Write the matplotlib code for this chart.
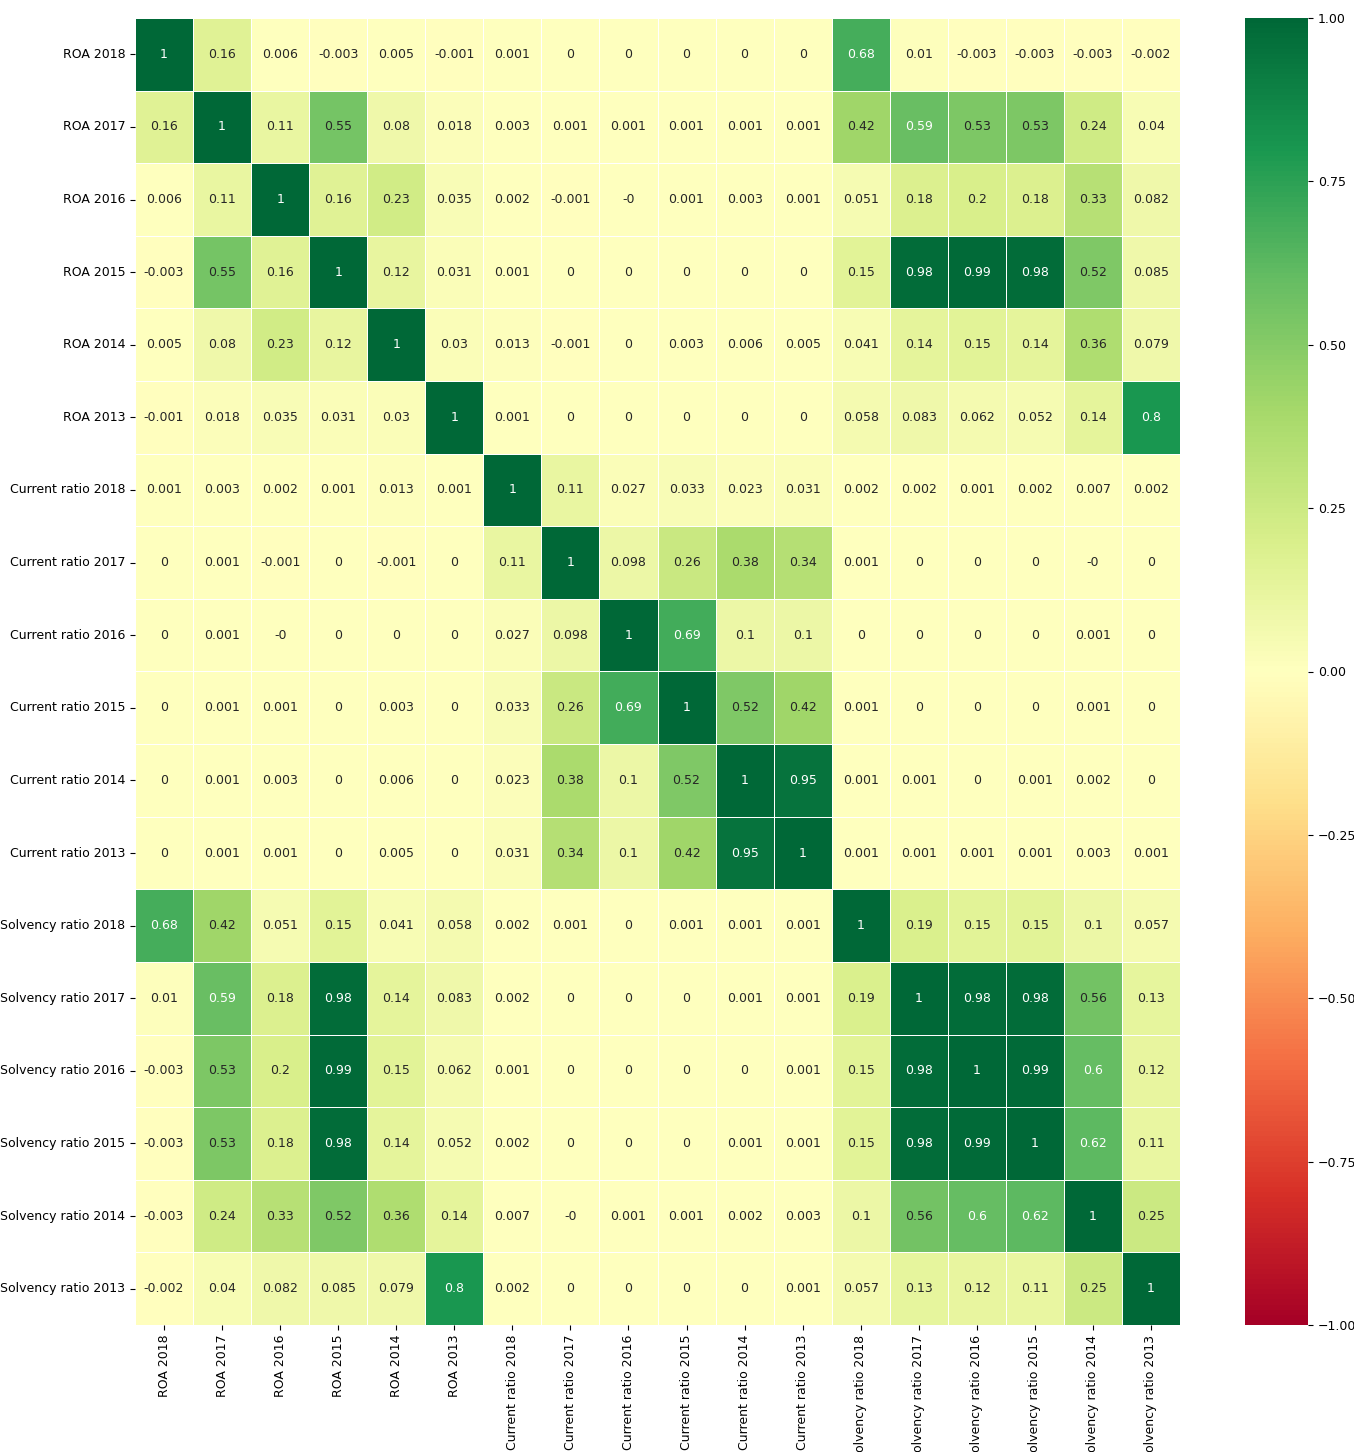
import matplotlib
matplotlib.use("Agg")
import matplotlib.pyplot as plt
import numpy as np
import pandas as pd
import seaborn as sns

labels = ["ROA 2018", "ROA 2017", "ROA 2016", "ROA 2015", "ROA 2014", "ROA 2013",
          "Current ratio 2018", "Current ratio 2017", "Current ratio 2016",
          "Current ratio 2015", "Current ratio 2014", "Current ratio 2013",
          "Solvency ratio 2018", "Solvency ratio 2017", "Solvency ratio 2016",
          "Solvency ratio 2015", "Solvency ratio 2014", "Solvency ratio 2013"]

roa_2018 = [1, 0.16, 0.006, -0.003, 0.005, -0.001, 0.001, 0, 0, 0, 0, 0, 0.68, 0.01, -0.003, -0.003, -0.003, -0.002]
roa_2017 = [0.16, 1, 0.11, 0.55, 0.08, 0.018, 0.003, 0.001, 0.001, 0.001, 0.001, 0.001, 0.42, 0.59, 0.53, 0.53, 0.24, 0.04]
roa_2016 = [0.006, 0.11, 1, 0.16, 0.23, 0.035, 0.002, -0.001, -0.0, 0.001, 0.003, 0.001, 0.051, 0.18, 0.2, 0.18, 0.33, 0.082]
roa_2015 = [-0.003, 0.55, 0.16, 1, 0.12, 0.031, 0.001, 0, 0, 0, 0, 0, 0.15, 0.98, 0.99, 0.98, 0.52, 0.085]
roa_2014 = [0.005, 0.08, 0.23, 0.12, 1, 0.03, 0.013, -0.001, 0, 0.003, 0.006, 0.005, 0.041, 0.14, 0.15, 0.14, 0.36, 0.079]
roa_2013 = [-0.001, 0.018, 0.035, 0.031, 0.03, 1, 0.001, 0, 0, 0, 0, 0, 0.058, 0.083, 0.062, 0.052, 0.14, 0.8]
cr_2018 = [0.001, 0.003, 0.002, 0.001, 0.013, 0.001, 1, 0.11, 0.027, 0.033, 0.023, 0.031, 0.002, 0.002, 0.001, 0.002, 0.007, 0.002]
cr_2017 = [0, 0.001, -0.001, 0, -0.001, 0, 0.11, 1, 0.098, 0.26, 0.38, 0.34, 0.001, 0, 0, 0, -0.0, 0]
cr_2016 = [0, 0.001, -0.0, 0, 0, 0, 0.027, 0.098, 1, 0.69, 0.1, 0.1, 0, 0, 0, 0, 0.001, 0]
cr_2015 = [0, 0.001, 0.001, 0, 0.003, 0, 0.033, 0.26, 0.69, 1, 0.52, 0.42, 0.001, 0, 0, 0, 0.001, 0]
cr_2014 = [0, 0.001, 0.003, 0, 0.006, 0, 0.023, 0.38, 0.1, 0.52, 1, 0.95, 0.001, 0.001, 0, 0.001, 0.002, 0]
cr_2013 = [0, 0.001, 0.001, 0, 0.005, 0, 0.031, 0.34, 0.1, 0.42, 0.95, 1, 0.001, 0.001, 0.001, 0.001, 0.003, 0.001]
sr_2018 = [0.68, 0.42, 0.051, 0.15, 0.041, 0.058, 0.002, 0.001, 0, 0.001, 0.001, 0.001, 1, 0.19, 0.15, 0.15, 0.1, 0.057]
sr_2017 = [0.01, 0.59, 0.18, 0.98, 0.14, 0.083, 0.002, 0, 0, 0, 0.001, 0.001, 0.19, 1, 0.98, 0.98, 0.56, 0.13]
sr_2016 = [-0.003, 0.53, 0.2, 0.99, 0.15, 0.062, 0.001, 0, 0, 0, 0, 0.001, 0.15, 0.98, 1, 0.99, 0.6, 0.12]
sr_2015 = [-0.003, 0.53, 0.18, 0.98, 0.14, 0.052, 0.002, 0, 0, 0, 0.001, 0.001, 0.15, 0.98, 0.99, 1, 0.62, 0.11]
sr_2014 = [-0.003, 0.24, 0.33, 0.52, 0.36, 0.14, 0.007, -0.0, 0.001, 0.001, 0.002, 0.003, 0.1, 0.56, 0.6, 0.62, 1, 0.25]
sr_2013 = [-0.002, 0.04, 0.082, 0.085, 0.079, 0.8, 0.002, 0, 0, 0, 0, 0.001, 0.057, 0.13, 0.12, 0.11, 0.25, 1]

rows = [roa_2018, roa_2017, roa_2016, roa_2015, roa_2014, roa_2013,
        cr_2018, cr_2017, cr_2016, cr_2015, cr_2014, cr_2013,
        sr_2018, sr_2017, sr_2016, sr_2015, sr_2014, sr_2013]
corr = pd.DataFrame(np.array(rows, dtype=float), index=labels, columns=labels)

cbar_ticks = [-1, -0.75, -0.5, -0.25, 0, 0.25, 0.5, 0.75, 1]

W, H = 1354, 1452
fig = plt.figure(figsize=(W / 100, H / 100), dpi=100)
ax = fig.add_axes([135 / W, 1 - 1325 / H, 1045 / W, 1307 / H])
cax = fig.add_axes([1245 / W, 1 - 1325 / H, 63 / W, 1307 / H])

sns.heatmap(corr, annot=True, fmt=".2g", cmap="RdYlGn", vmin=-1, vmax=1,
            linewidths=0.5, linecolor="white", ax=ax, cbar_ax=cax,
            annot_kws={"fontsize": 9})
ax.tick_params(labelsize=9)
cax.tick_params(labelsize=9)
cax.set_yticks(cbar_ticks)
cax.set_yticklabels(["{:.2f}".format(v).replace("-", "\u2212") for v in cbar_ticks])

fig.savefig("out.png", dpi=100)
